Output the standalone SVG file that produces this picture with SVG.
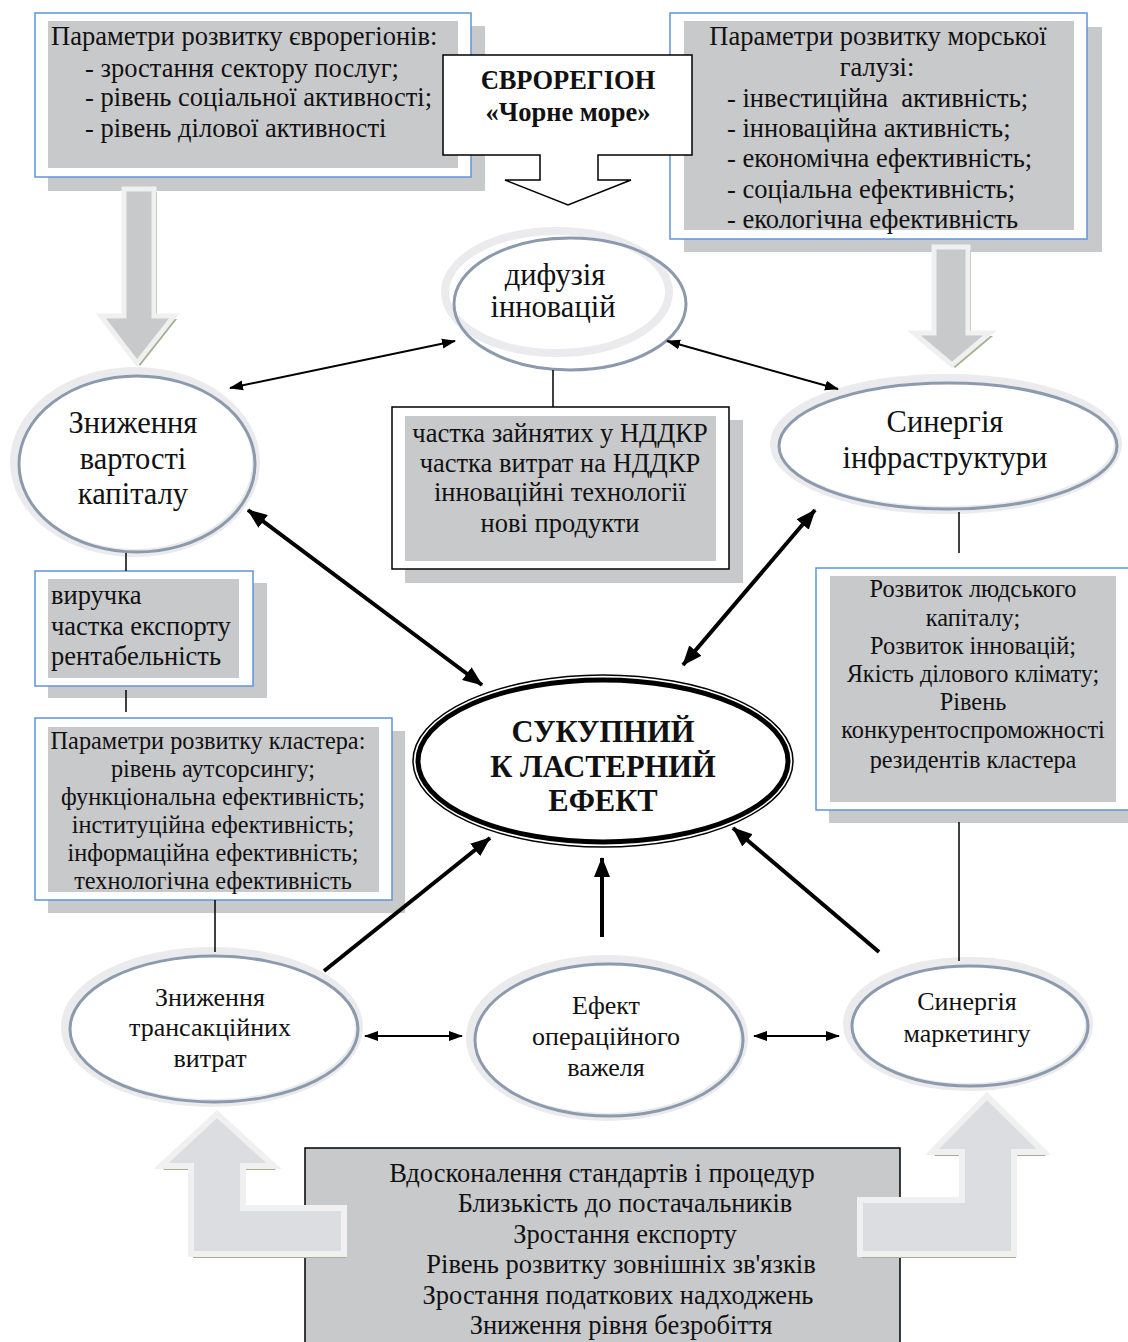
<svg xmlns="http://www.w3.org/2000/svg" width="1128" height="1342" viewBox="0 0 1128 1342">
<defs>
<marker id="ah" markerUnits="userSpaceOnUse" markerWidth="14" markerHeight="12" refX="13" refY="5" orient="auto-start-reverse" viewBox="0 0 14 10"><path d="M0,0 L14,5 L0,10 z" fill="#000"/></marker>
<marker id="ahb" markerUnits="userSpaceOnUse" markerWidth="20" markerHeight="16" refX="19" refY="8" orient="auto-start-reverse" viewBox="0 0 20 16"><path d="M0,0 L20,8 L0,16 z" fill="#000"/></marker>
<style>
text{font-family:"Liberation Serif","Times New Roman",serif;fill:#111;}
.shadow{fill:#c8c9cb;}
.frame{fill:#fff;stroke:#5f93dc;stroke-width:1.5;}
.inner{fill:#c8c9cb;}
.tb{font-size:26.5px;}
.tm{font-size:24.3px;}
.te{font-size:30.5px;}
.ts{font-size:26px;}
.c{text-anchor:middle;}
.ring1{fill:#fff;stroke:#ebebed;stroke-width:8;}
.ring2{fill:none;stroke:#8c9aae;stroke-width:3;}
.blk{fill:#c8c9cb;stroke:#f0f0f0;stroke-width:5;stroke-linejoin:miter;}
.blk2{fill:#dcdde0;stroke:#f0f0f0;stroke-width:6;stroke-linejoin:miter;}
.olive{fill:#a5ae8e;}
.thin{stroke:#000;stroke-width:2;fill:none;}
.thick{stroke:#000;stroke-width:4;fill:none;}
.ln{stroke:#000;stroke-width:1.5;}
</style>
</defs>

<g id="euroregion-params">
<rect class="shadow" x="48" y="26" width="437" height="165"/>
<rect class="frame" x="35" y="13" width="436" height="164"/>
<rect class="inner" x="48" y="21" width="410" height="147"/>
<text class="tb" x="51" y="45">Параметри розвитку єврорегіонів:</text>
<text class="tb" x="85" y="77">- зростання сектору послуг;</text>
<text class="tb" x="85" y="106">- рівень соціальної активності;</text>
<text class="tb" x="85" y="137">- рівень ділової активності</text>
</g>

<g id="sea-params">
<rect class="shadow" x="684" y="27" width="418" height="225"/>
<rect class="frame" x="670" y="13" width="417" height="226"/>
<rect class="inner" x="684" y="21" width="390" height="209"/>
<text class="tb c" x="878" y="45">Параметри розвитку морської</text>
<text class="tb c" x="877" y="76">галузі:</text>
<text class="tb" x="727" y="107" xml:space="preserve">- інвестиційна  активність;</text>
<text class="tb" x="727" y="137">- інноваційна активність;</text>
<text class="tb" x="727" y="167">- економічна ефективність;</text>
<text class="tb" x="727" y="198">- соціальна ефективність;</text>
<text class="tb" x="727" y="228">- екологічна ефективність</text>
</g>

<g id="euroregion">
<path d="M443,55 H692 V155 H598 V180 H631 L568,205 L505,180 H540 V155 H443 Z" fill="#fff" stroke="#000" stroke-width="1.5"/>
<text class="c" x="568" y="89" font-size="26.5" font-weight="bold">ЄВРОРЕГІОН</text>
<text class="c" x="568" y="121" font-size="26.5" font-weight="bold">«Чорне море»</text>
</g>

<g id="arrow-left-down">
<polygon class="olive" points="127,192 157,192 157,319 177,319 140,366 104,319 127,319"/>
<polygon class="blk" points="124,189 154,189 154,316 174,316 137,363 101,316 124,316"/>
</g>
<g id="arrow-right-down">
<polygon class="olive" points="937,250 971,250 971,336 993,336 955,368 917,336 937,336"/>
<polygon class="blk" points="934,247 968,247 968,333 990,333 952,365 914,333 934,333"/>
</g>

<g id="diffusion">
<ellipse cx="568" cy="302" rx="116" ry="66" fill="#fff"/>
<ellipse class="ring1" cx="557" cy="292" rx="112" ry="61" fill="none"/>
<ellipse class="ring2" cx="570" cy="304" rx="116" ry="66"/>
<text class="te c" x="555" y="285">дифузія</text>
<text class="te c" x="553" y="317">інновацій</text>
</g>

<g id="capital">
<ellipse class="ring1" cx="135" cy="462" rx="121" ry="91"/>
<ellipse class="ring2" cx="137" cy="464" rx="118" ry="88"/>
<text class="te c" x="133" y="433">Зниження</text>
<text class="te c" x="133" y="469">вартості</text>
<text class="te c" x="133" y="504">капіталу</text>
</g>

<g id="infra">
<ellipse class="ring1" cx="946" cy="444" rx="172" ry="66"/>
<ellipse class="ring2" cx="948" cy="446" rx="169" ry="63"/>
<text class="te c" x="945" y="432">Синергія</text>
<text class="te c" x="945" y="468">інфраструктури</text>
</g>

<g id="rnd">
<rect class="shadow" x="405" y="420" width="338" height="163"/>
<rect x="392" y="407" width="337" height="162" fill="#fff" stroke="#000" stroke-width="1.5"/>
<rect class="inner" x="405" y="416" width="311" height="145"/>
<text class="tb c" x="560" y="442">частка зайнятих у НДДКР</text>
<text class="tb c" x="560" y="472">частка витрат на НДДКР</text>
<text class="tb c" x="560" y="501">інноваційні технології</text>
<text class="tb c" x="560" y="532">нові продукти</text>
</g>

<g id="revenue">
<rect class="shadow" x="48" y="583" width="219" height="115"/>
<rect class="frame" x="35" y="571" width="218" height="115"/>
<rect class="inner" x="48" y="579" width="191" height="99"/>
<text class="tb" x="51" y="604">виручка</text>
<text class="tb" x="51" y="635">частка експорту</text>
<text class="tb" x="51" y="665">рентабельність</text>
</g>

<g id="cluster-params">
<rect class="shadow" x="48" y="731" width="357" height="182"/>
<rect class="frame" x="35" y="718" width="357" height="182"/>
<rect class="inner" x="48" y="727" width="331" height="165"/>
<text class="tm c" x="208" y="749">Параметри розвитку кластера:</text>
<text class="tm c" x="213" y="777">рівень аутсорсингу;</text>
<text class="tm c" x="213" y="805">функціональна ефективність;</text>
<text class="tm c" x="213" y="833">інституційна ефективність;</text>
<text class="tm c" x="213" y="861">інформаційна ефективність;</text>
<text class="tm c" x="213" y="889">технологічна ефективність</text>
</g>

<g id="human-capital">
<rect class="shadow" x="829" y="580" width="300" height="243"/>
<rect class="frame" x="816" y="568" width="320" height="242"/>
<rect class="inner" x="830" y="576" width="286" height="226"/>
<text class="tm c" x="973" y="597">Розвиток людського</text>
<text class="tm c" x="973" y="626">капіталу;</text>
<text class="tm c" x="973" y="654">Розвиток інновацій;</text>
<text class="tm c" x="973" y="682">Якість ділового клімату;</text>
<text class="tm c" x="973" y="710">Рівень</text>
<text class="tm c" x="973" y="738">конкурентоспроможності</text>
<text class="tm c" x="973" y="768">резидентів кластера</text>
</g>

<g id="total-effect">
<ellipse cx="603" cy="761" rx="190" ry="86" fill="#fff" stroke="#000" stroke-width="1.5"/>
<ellipse cx="603" cy="761" rx="185" ry="81" fill="#fff" stroke="#000" stroke-width="5"/>
<text class="c" x="603" y="742" font-size="30.5" font-weight="bold">СУКУПНИЙ</text>
<text class="c" x="603" y="777" font-size="30.5" font-weight="bold">К ЛАСТЕРНИЙ</text>
<text class="c" x="603" y="811" font-size="30.5" font-weight="bold">ЕФЕКТ</text>
</g>

<g id="transaction">
<ellipse class="ring1" cx="212" cy="1027" rx="147" ry="76"/>
<ellipse class="ring2" cx="214" cy="1029" rx="144" ry="73"/>
<text class="ts c" x="210" y="1006">Зниження</text>
<text class="ts c" x="210" y="1036">трансакційних</text>
<text class="ts c" x="210" y="1067">витрат</text>
</g>

<g id="leverage">
<ellipse class="ring1" cx="607" cy="1038" rx="137" ry="79"/>
<ellipse class="ring2" cx="609" cy="1040" rx="134" ry="76"/>
<text class="ts c" x="606" y="1014">Ефект</text>
<text class="ts c" x="606" y="1045">операційного</text>
<text class="ts c" x="606" y="1076">важеля</text>
</g>

<g id="marketing">
<ellipse class="ring1" cx="968" cy="1024" rx="121" ry="63"/>
<ellipse class="ring2" cx="970" cy="1026" rx="118" ry="60"/>
<text class="ts c" x="967" y="1010">Синергія</text>
<text class="ts c" x="967" y="1042">маркетингу</text>
</g>

<g id="factors">
<rect x="305" y="1148" width="595" height="210" fill="#c8c9cb" stroke="#000" stroke-width="1.5"/>
<text class="tb c" x="602" y="1182">Вдосконалення стандартів і процедур</text>
<text class="tb c" x="625" y="1212">Близькість до постачальників</text>
<text class="tb c" x="625" y="1243">Зростання експорту</text>
<text class="tb c" x="621" y="1273">Рівень розвитку зовнішніх зв'язків</text>
<text class="tb c" x="618" y="1304">Зростання податкових надходжень</text>
<text class="tb c" x="621" y="1334">Зниження рівня безробіття</text>
</g>

<g id="arrow-bent-left">
<polygon class="olive" points="219,1118 276,1170 245,1170 245,1212 346,1212 346,1258 193,1258 193,1170 163,1170"/>
<polygon class="blk2" points="217,1114 274,1166 243,1166 243,1208 344,1208 344,1254 191,1254 191,1166 161,1166"/>
</g>
<g id="arrow-bent-right">
<polygon class="olive" points="989,1100 1046,1156 1016,1156 1016,1258 862,1258 862,1204 964,1204 964,1156 934,1156"/>
<polygon class="blk2" points="987,1096 1044,1152 1014,1152 1014,1254 860,1254 860,1200 962,1200 962,1152 932,1152"/>
</g>

<g id="connectors">
<line class="ln" x1="553" y1="370" x2="553" y2="407"/>
<line class="ln" x1="126" y1="553" x2="126" y2="571"/>
<line class="ln" x1="126" y1="690" x2="126" y2="712"/>
<line class="ln" x1="215" y1="900" x2="215" y2="952"/>
<line class="ln" x1="959" y1="512" x2="959" y2="553"/>
<line class="ln" x1="959" y1="822" x2="959" y2="961"/>
<line class="thin" x1="230" y1="388" x2="455" y2="341" marker-start="url(#ah)" marker-end="url(#ah)"/>
<line class="thin" x1="667" y1="341" x2="838" y2="389" marker-start="url(#ah)" marker-end="url(#ah)"/>
<line class="thick" x1="248" y1="510" x2="482" y2="685" marker-start="url(#ahb)" marker-end="url(#ahb)"/>
<line class="thick" x1="683" y1="665" x2="815" y2="510" marker-start="url(#ahb)" marker-end="url(#ahb)"/>
<line class="thick" x1="324" y1="971" x2="490" y2="838" marker-end="url(#ahb)"/>
<line class="thick" x1="602" y1="937" x2="602" y2="858" marker-end="url(#ahb)"/>
<line class="thick" x1="879" y1="952" x2="733" y2="828" marker-end="url(#ahb)"/>
<line class="thin" x1="365" y1="1036" x2="462" y2="1036" marker-start="url(#ah)" marker-end="url(#ah)"/>
<line class="thin" x1="754" y1="1036" x2="839" y2="1036" marker-start="url(#ah)" marker-end="url(#ah)"/>
</g>
</svg>
